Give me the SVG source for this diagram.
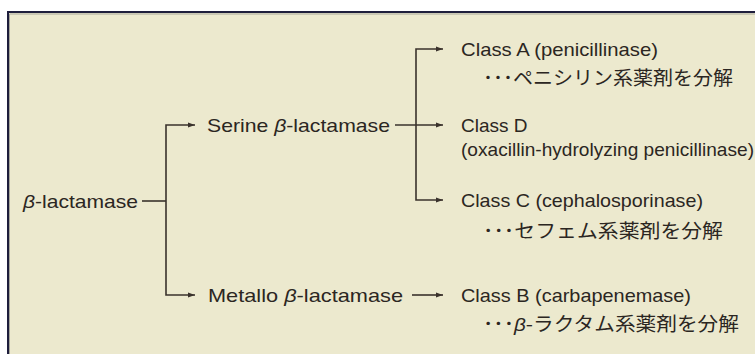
<svg xmlns="http://www.w3.org/2000/svg" width="755" height="354" viewBox="0 0 755 354">
<style>
.t{font-family:"Liberation Sans","Noto Sans CJK JP",sans-serif;font-size:19px;fill:#2b2622}
.j{font-family:"Noto Sans CJK JP","Liberation Sans",sans-serif;font-size:19px;fill:#2b2622}
.b{font-style:italic}
.c{fill:none;stroke:#3a322c;stroke-width:1.6}
</style>
<defs>
<marker id="ah" markerUnits="userSpaceOnUse" markerWidth="7" markerHeight="6" refX="7" refY="3" orient="auto">
<path d="M0,0.5 L7,3 L0,5.5 z" fill="#3a322c"/>
</marker>
</defs>
<rect x="0" y="0" width="755" height="354" fill="#ffffff"/>
<rect x="8" y="12" width="760" height="360" fill="#ECE9CE" stroke="#1e1e3c" stroke-width="2"/>
<path d="M9.5,374 V14 H770" fill="none" stroke="#a8a79a" stroke-width="1"/>
<g id="connectors">
<path class="c" d="M142,201 H166"/>
<path class="c" d="M166,201 V125 H195" marker-end="url(#ah)"/>
<path class="c" d="M166,201 V295 H195" marker-end="url(#ah)"/>
<path class="c" d="M395,125 H443" marker-end="url(#ah)"/>
<path class="c" d="M416,125 V49 H443" marker-end="url(#ah)"/>
<path class="c" d="M416,125 V200 H443" marker-end="url(#ah)"/>
<path class="c" d="M412,295 H443" marker-end="url(#ah)"/>
</g>
<g id="beta-lactamase">
<text class="t" x="23" y="208" textLength="115" lengthAdjust="spacingAndGlyphs"><tspan class="b">β</tspan>-lactamase</text>
</g>
<g id="serine">
<text class="t" x="207" y="132" textLength="183" lengthAdjust="spacingAndGlyphs">Serine <tspan class="b">β</tspan>-lactamase</text>
</g>
<g id="metallo">
<text class="t" x="208" y="302" textLength="195" lengthAdjust="spacingAndGlyphs">Metallo <tspan class="b">β</tspan>-lactamase</text>
</g>
<g id="classA">
<text class="t" x="461" y="56" textLength="197" lengthAdjust="spacingAndGlyphs">Class A (penicillinase)</text>
<text class="j" x="483" y="85" textLength="250" lengthAdjust="spacingAndGlyphs">･･･ペニシリン系薬剤を分解</text>
</g>
<g id="classD">
<text class="t" x="461" y="132">Class D</text>
<text class="t" x="461" y="156" textLength="293" lengthAdjust="spacingAndGlyphs">(oxacillin-hydrolyzing penicillinase)</text>
</g>
<g id="classC">
<text class="t" x="461" y="207" textLength="242" lengthAdjust="spacingAndGlyphs">Class C (cephalosporinase)</text>
<text class="j" x="483" y="238" textLength="240" lengthAdjust="spacingAndGlyphs">･･･セフェム系薬剤を分解</text>
</g>
<g id="classB">
<text class="t" x="461" y="302" textLength="230" lengthAdjust="spacingAndGlyphs">Class B (carbapenemase)</text>
<text class="j" x="483" y="331" textLength="256" lengthAdjust="spacingAndGlyphs">･･･<tspan class="b" font-family="Liberation Sans">β</tspan>-ラクタム系薬剤を分解</text>
</g>
</svg>
